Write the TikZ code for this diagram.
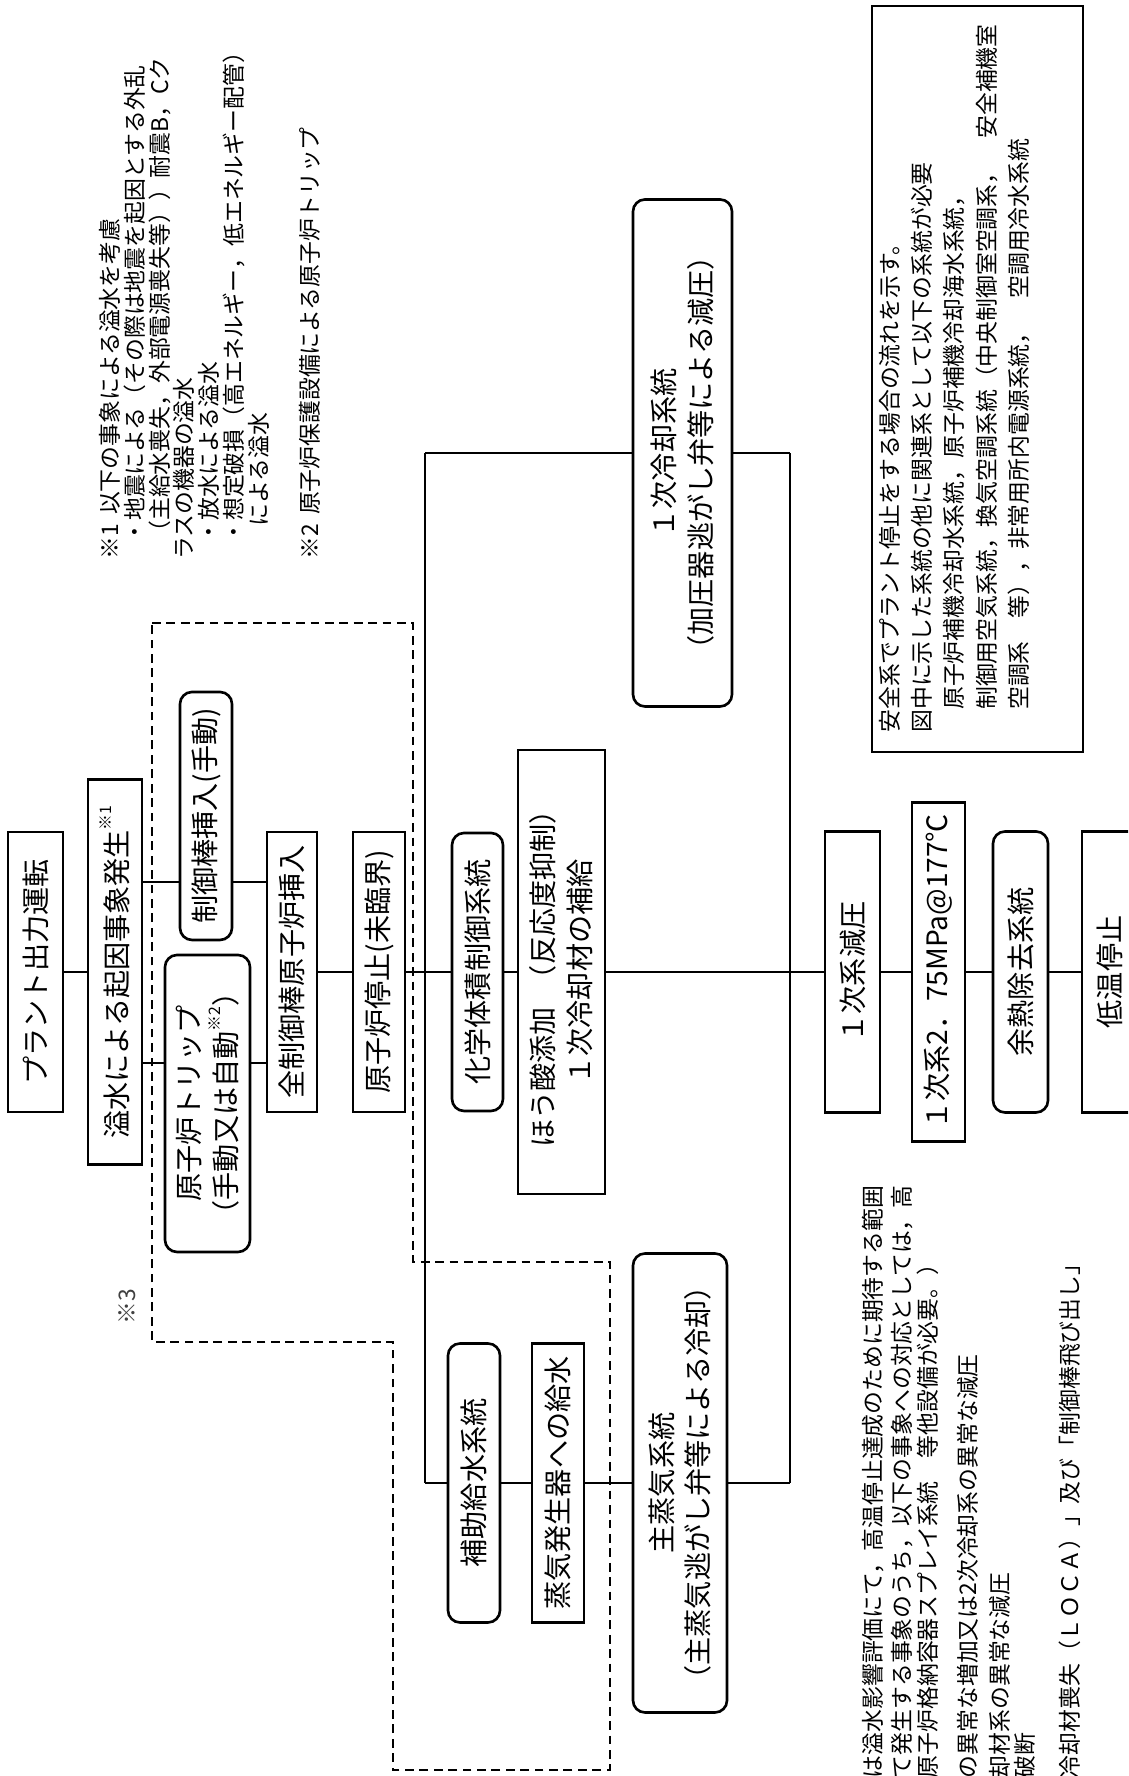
\documentclass[tikz,border=0pt]{standalone}
\usepackage{fontspec}
\setmainfont{Noto Sans CJK JP}
\newcommand{\kome}[1]{\raisebox{0.55em}{\fontsize{9}{9}\selectfont ※#1}}

\begin{document}
\begin{tikzpicture}[
rotate=90,transform shape,
box/.style={
rectangle,draw,line width=1.5pt,
align=center,inner sep=0pt,
font=\fontsize{16}{21}\selectfont
},
rbox/.style={
box,rounded corners=0.24cm
},
link/.style={line width=0.8pt},
zone/.style={line width=1.4pt,dash pattern=on 5pt off 3.2pt},
note/.style={
align=left,inner sep=0pt,
font=\fontsize{13}{14.2}\selectfont
}
]

% page (landscape sheet, turned)
\useasboundingbox (0,-22.56) rectangle (35.52,0);
\clip (0,-22.56) rectangle (35.52,0);

% =======================
% TRIP SEQUENCE
% =======================

\node[box,minimum width=5.6cm,minimum height=1.1cm] (plant) at (16.08,-0.71)
{プラント出力運転};

\node[box,minimum width=7.7cm,minimum height=1.08cm] (flood) at (16.08,-2.30)
{溢水による起因事象発生\kome{1}};

\node[rbox,minimum width=4.96cm,minimum height=1.04cm] (rodman) at (19.2,-4.12)
{制御棒挿入(手動)};

\node[rbox,minimum width=5.94cm,minimum height=1.7cm] (trip) at (13.45,-4.15)
{原子炉トリップ \\ （手動又は自動\kome{2}）};

\node[box,minimum width=5.6cm,minimum height=1.0cm] (allrod) at (16.08,-5.84)
{全制御棒原子炉挿入};

\node[box,minimum width=5.6cm,minimum height=1.04cm] (stop) at (16.08,-7.58)
{原子炉停止(未臨界)};

% =======================
% COOLING BRANCHES
% =======================

\node[rbox,minimum width=5.56cm,minimum height=1.02cm] (cvcs) at (16.08,-9.55)
{化学体積制御系統};

\node[box,minimum width=8.88cm,minimum height=1.74cm] (boric) at (16.08,-11.23)
{ほう酸添加\hspace{0.5em}（反応度抑制） \\ １次冷却材の補給};

\node[rbox,minimum width=10.14cm,minimum height=1.98cm] (rcs) at (26.46,-13.65)
{１次冷却系統 \\ （加圧器逃がし弁等による減圧）};

\node[rbox,minimum width=5.58cm,minimum height=1.04cm] (afw) at (5.86,-9.48)
{補助給水系統};

\node[box,minimum width=5.58cm,minimum height=1.04cm] (sgfeed) at (5.86,-11.16)
{蒸気発生器への給水};

\node[rbox,minimum width=9.18cm,minimum height=1.88cm] (msteam) at (5.86,-13.6)
{主蒸気系統 \\ （主蒸気逃がし弁等による冷却）};

% =======================
% COLD SHUTDOWN
% =======================

\node[box,minimum width=5.62cm,minimum height=1.1cm] (depress) at (16.08,-17.05)
{１次系減圧};

\node[box,minimum width=6.78cm,minimum height=1.06cm] (cond) at (16.08,-18.77)
{１次系2．75MPa@177℃};

\node[rbox,minimum width=5.62cm,minimum height=1.1cm] (rhr) at (16.08,-20.41)
{余熱除去系統};

\node[box,minimum width=5.62cm,minimum height=1.1cm] (cold) at (16.08,-22.19)
{低温停止};

% =======================
% CONNECTORS
% =======================

\coordinate (kr) at (17.88,0);
\coordinate (kt) at (14.26,0);
\coordinate (sgsplit) at (5.86,-8.5);
\coordinate (rcssplit) at (26.46,-8.5);
\coordinate (sgjoin) at (5.86,-15.8);
\coordinate (rcsjoin) at (26.46,-15.8);

\draw[link] (plant) -- (flood);
\draw[link] (kr |- flood.south) -- (kr |- rodman.north);
\draw[link] (kt |- flood.south) -- (kt |- trip.north);
\draw[link] (kr |- rodman.south) -- (kr |- allrod.north);
\draw[link] (kt |- trip.south) -- (kt |- allrod.north);
\draw[link] (allrod) -- (stop);
\draw[link] (stop) -- (cvcs);
\draw[link] (cvcs) -- (boric);
\draw[link] (boric) -- (depress);

\draw[link] (sgsplit) -- (rcssplit);
\draw[link] (sgjoin) -- (rcsjoin);
\draw[link] (sgsplit) -- (afw);
\draw[link] (afw) -- (sgfeed);
\draw[link] (sgfeed) -- (msteam);
\draw[link] (msteam) -- (sgjoin);
\draw[link] (rcssplit) -- (rcs);
\draw[link] (rcs) -- (rcsjoin);

\draw[link] (depress) -- (cond);
\draw[link] (cond) -- (rhr);
\draw[link] (rhr) -- (cold);

% area of note 3
\draw[zone] (23.06,-3.04) -- (23.06,-8.26) -- (10.28,-8.26) -- (10.28,-12.2)
-- (0.12,-12.2) -- (0.12,-7.86) -- (8.68,-7.86) -- (8.68,-3.04) -- cycle;

\node[note,text=black!75] (mark3) at (9.38,-2.55) {※3};

% =======================
% NOTES
% =======================

\node[note,anchor=north west] (note1) at (24.32,-1.97)
{※1\hspace{0.4em}以下の事象による溢水を考慮 \\
\hspace{0.7em}・地震による（その際は地震を起因とする外乱 \\
\hspace{0.7em}（主給水喪失，外部電源喪失等））耐震B，Cク \\
ラスの機器の溢水 \\
\hspace{0.7em}・放水による溢水 \\
\hspace{0.7em}・想定破損（高エネルギー，低エネルギー配管） \\
\hspace{1.45em}による溢水};

\node[note,anchor=west] (note2) at (24.32,-6.2)
{※2\hspace{0.4em}原子炉保護設備による原子炉トリップ};

\node[draw,line width=0.8pt,inner sep=0pt,
minimum width=14.92cm,minimum height=4.22cm] (notebox) at (27.94,-19.55) {};

\node[note,anchor=north west,font=\fontsize{13}{18.4}\selectfont] (notetext) at (20.86,-17.57)
{安全系でプラント停止をする場合の流れを示す。 \\
図中に示した系統の他に関連系として以下の系統が必要 \\
　原子炉補機冷却水系統，原子炉補機冷却海水系統， \\
　制御用空気系統，換気空調系統（中央制御室空調系，　安全補機室 \\
　空調系　等），非常用所内電源系統，　空調用冷水系統};

% note 3 (runs off the sheet)
\node[note,anchor=west] (rem1) at (-0.05,-17.46) {は溢水影響評価にて，高温停止達成のために期待する範囲};
\node[note,anchor=west] (rem2) at (-0.05,-18.04) {て発生する事象のうち，以下の事象への対応としては，高};
\node[note,anchor=west] (rem3) at (-0.05,-18.56) {原子炉格納容器スプレイ系統　等他設備が必要。）};
\node[note,anchor=west] (rem4) at (-0.05,-19.36) {の異常な増加又は2次冷却系の異常な減圧};
\node[note,anchor=west] (rem5) at (-0.05,-20.0) {却材系の異常な減圧};
\node[note,anchor=west] (rem6) at (-0.05,-20.5) {破断};
\node[note,anchor=west] (rem7) at (-0.05,-21.4) {冷却材喪失（ＬＯＣＡ）」及び「制御棒飛び出し」};

\end{tikzpicture}
\end{document}
